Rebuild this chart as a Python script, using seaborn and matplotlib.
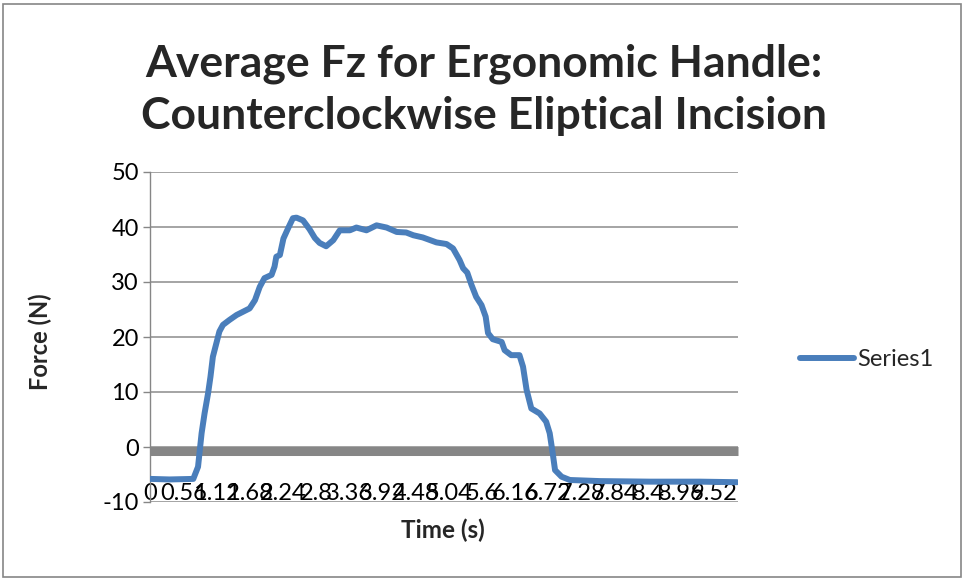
import matplotlib
matplotlib.use("Agg")
import matplotlib.pyplot as plt
import seaborn as sns
import pandas as pd
from matplotlib.patches import Rectangle

# ---- data ----
time_s = [0.00, 0.33, 0.73, 0.81, 0.87, 0.92, 0.98, 1.02, 1.06, 1.12, 1.17, 1.23,
          1.34, 1.46, 1.57, 1.68, 1.77, 1.85, 1.93, 2.05, 2.10, 2.13, 2.19, 2.25,
          2.33, 2.41, 2.47, 2.58, 2.69, 2.78, 2.86, 2.97, 3.09, 3.20, 3.37, 3.48,
          3.65, 3.82, 3.99, 4.16, 4.32, 4.44, 4.60, 4.83, 5.00, 5.11, 5.22, 5.28,
          5.35, 5.42, 5.50, 5.59, 5.66, 5.70, 5.78, 5.93, 5.98, 6.09, 6.23, 6.29,
          6.35, 6.43, 6.57, 6.68, 6.74, 6.79, 6.83, 6.94, 7.08, 7.59, 8.43, 9.27,
          9.90]
force_N = [-5.8, -5.9, -5.8, -3.6, 2.5, 6.1, 9.8, 12.8, 16.4, 18.9, 21.0, 22.2,
           23.1, 24.0, 24.6, 25.2, 26.7, 29.1, 30.7, 31.3, 32.8, 34.6, 34.9, 37.9,
           39.8, 41.6, 41.7, 41.2, 39.6, 38.0, 37.1, 36.5, 37.6, 39.4, 39.4, 39.9,
           39.4, 40.3, 39.9, 39.1, 39.0, 38.5, 38.1, 37.2, 36.9, 36.1, 34.0, 32.5,
           31.7, 29.5, 27.3, 25.8, 23.7, 20.7, 19.6, 19.1, 17.6, 16.7, 16.7, 14.6,
           10.4, 7.0, 6.1, 4.6, 2.5, -1.1, -4.2, -5.4, -6.0, -6.2, -6.3, -6.3,
           -6.4]
x_tick_values = [0, 0.56, 1.12, 1.68, 2.24, 2.8, 3.36, 3.92, 4.48, 5.04, 5.6,
                 6.16, 6.72, 7.28, 7.84, 8.4, 8.96, 9.52]
x_tick_labels = ["0", "0.56", "1.12", "1.68", "2.24", "2.8", "3.36", "3.92",
                 "4.48", "5.04", "5.6", "6.16", "6.72", "7.28", "7.84", "8.4",
                 "8.96", "9.52"]
y_tick_values = [-10, 0, 10, 20, 30, 40, 50]
y_tick_labels = ["-10", "0", "10", "20", "30", "40", "50"]
series_name = "Series1"
title_text = "Average Fz for Ergonomic Handle:\nCounterclockwise Eliptical Incision"
x_label = "Time (s)"
y_label = "Force (N)"

# ---- style ----
sns.set_style("white")
plt.rcParams["font.family"] = ["Lato", "DejaVu Sans"]

W, H = 964, 579
fig = plt.figure(figsize=(W / 100, H / 100), dpi=100)
ax = fig.add_axes([150 / W, 1 - 502 / H, 588 / W, 330 / H])

df = pd.DataFrame({"t": time_s, "f": force_N})
sns.lineplot(data=df, x="t", y="f", ax=ax, color="#4A7EBB", lw=4.3,
             label=series_name, zorder=3, estimator=None,
             solid_capstyle="round", solid_joinstyle="round")

ax.set_xlim(0, 9.915)
ax.set_ylim(-10, 50)
ax.set_yticks(y_tick_values)
ax.set_yticklabels(y_tick_labels)
ax.set_xticks(x_tick_values)
ax.set_xticklabels(x_tick_labels)
ax.grid(False)
ax.yaxis.grid(True, color="#8C8C8C", lw=1.1)
ax.set_axisbelow(True)

ax.tick_params(axis="x", bottom=False, length=0, pad=22.5, labelsize=17,
               labelcolor="black")
ax.tick_params(axis="y", left=True, length=5, width=1, color="#868686",
               direction="out", pad=3, labelsize=17, labelcolor="black")

for s in ["top", "right"]:
    ax.spines[s].set_visible(False)
ax.spines["left"].set_color("#868686")
ax.spines["left"].set_linewidth(1)
ax.spines["bottom"].set_position(("data", -0.8))
ax.spines["bottom"].set_color("#868686")
ax.spines["bottom"].set_linewidth(6.5)
ax.spines["bottom"].set_capstyle("butt")
ax.set_xlabel("")
ax.set_ylabel("")

leg = ax.legend(loc="center left", bbox_to_anchor=(800 / W, 1 - 360 / H),
                bbox_transform=fig.transFigure, frameon=False, fontsize=17,
                handlelength=2.3, handletextpad=0.13, borderpad=0,
                borderaxespad=0)

fig.text(484 / W, 1 - 44 / H, title_text, ha="center", va="top",
         fontsize=32, fontweight="bold", linespacing=1.36)
fig.text(443 / W, 1 - 530 / H, x_label, ha="center", va="center",
         fontsize=17.5, fontweight="bold")
fig.text(40 / W, 1 - 342 / H, y_label, ha="center", va="center",
         fontsize=17, fontweight="bold", rotation=90)

fig.patches.append(Rectangle((2.5 / W, 2.5 / H), 958 / W, 573 / H,
                             transform=fig.transFigure, fill=False,
                             edgecolor="#868686", lw=1.2))

fig.savefig("out.png", dpi=100)
